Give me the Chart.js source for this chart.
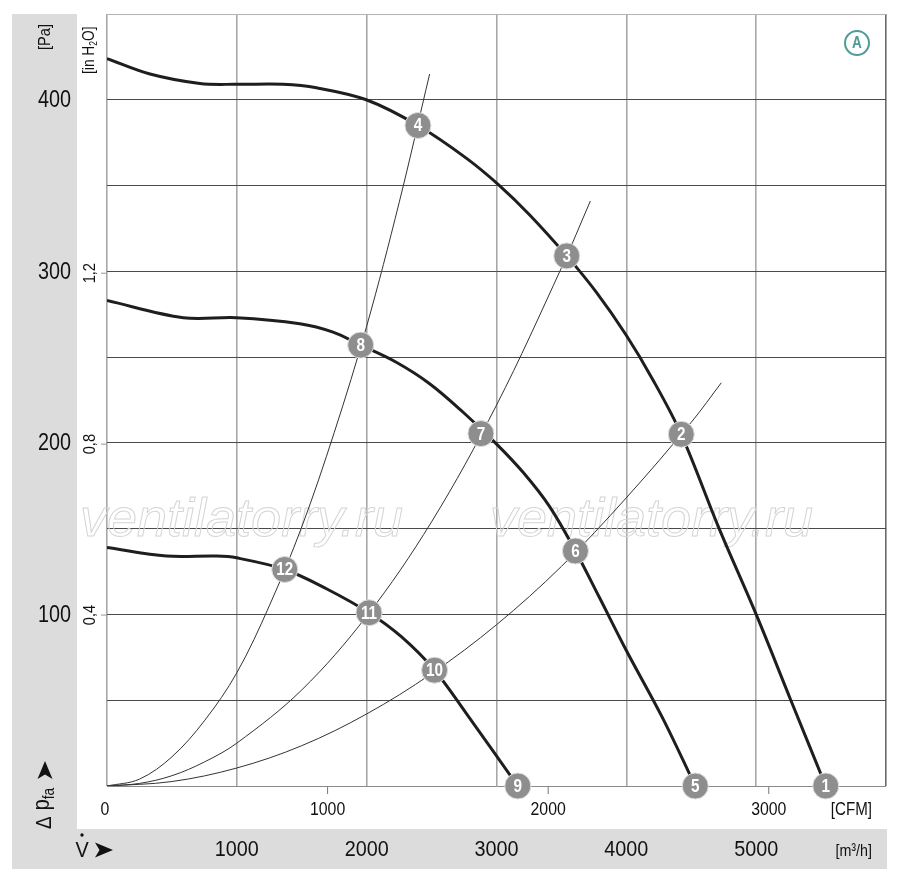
<!DOCTYPE html>
<html>
<head>
<meta charset="utf-8">
<script src="https://cdn.jsdelivr.net/npm/chart.js@4.4.1/dist/chart.umd.min.js"></script>
<style>
  html, body { margin: 0; padding: 0; background: #fff; }
  #wrap { width: 900px; height: 880px; }
</style>
</head>
<body>
<div id="wrap"><canvas id="fanChart" width="900" height="880"></canvas></div>
<script>
// flow in m³/h, pressure in Pa
const curve1Flow = [0, 331, 715, 997, 1356, 1613, 1997, 2395, 2767, 3023, 3254, 3541, 3767, 3997, 4203, 4423, 4715, 5000, 5267, 5536];
const curve1Pa   = [424, 415, 409.5, 409, 409, 407, 400, 385, 366, 350, 333, 309, 288, 263, 237, 205, 150, 100, 50, 0];

const curve2Flow = [0, 587, 997, 1485, 1741, 1954, 2228, 2485, 2741, 2997, 3203, 3408, 3608, 3792, 4000, 4277, 4531];
const curve2Pa   = [283, 273, 273, 269.5, 264.6, 257, 247, 234.5, 218, 199.6, 183, 163, 137, 110, 79, 40, 0];

const curve3Flow = [0, 459, 844, 997, 1369, 1690, 2018, 2267, 2523, 2767, 3164];
const curve3Pa   = [139, 134, 134, 133, 126.2, 115, 101, 87, 67.5, 42.3, 0];

// system curves through the operating points
const sysAFlow = [0, 250, 500, 750, 1000, 1250, 1500, 1750, 2000, 2250, 2485];
const sysAPa   = [0, 4, 17, 38, 66, 105, 151, 206, 268, 340, 415];
const sysBFlow = [0, 250, 500, 750, 1000, 1500, 2000, 2500, 3000, 3500, 3723];
const sysBPa   = [0, 1.5, 6, 14, 25, 56, 99, 154, 222, 302, 341];
const sysCFlow = [0, 500, 1000, 1500, 2000, 2500, 3000, 3500, 4000, 4500, 4731];
const sysCPa   = [0, 2.6, 10.5, 23.5, 42, 65.5, 94, 128, 168, 212, 235];

// numbered operating points
const pointLabels   = ['1', '2', '3', '4', '5', '6', '7', '8', '9', '10', '11', '12'];
const pointFlow     = [5536, 4423, 3541, 2395, 4531, 3608, 2880, 1954, 3164, 2523, 2018, 1369];
const pointPressure = [0, 205, 309, 385, 0, 137, 205.4, 257, 0, 67.5, 101, 126.2];

// axis ticks
const flowTicks   = [1000, 2000, 3000, 4000, 5000];   // m³/h
const cfmTicks    = [0, 1000, 2000, 3000];
const paTicks     = [100, 200, 300, 400];
const inH2oTicks  = [0.4, 0.8, 1.2];
const inH2oLabels = ['0,4', '0,8', '1,2'];

const M3H_PER_CFM = 1.699;
const PA_PER_INH2O = 249.09;
const FONT = '"Liberation Sans", Arimo, Helvetica, sans-serif';

const toXY = (xs, ys) => xs.map((x, i) => ({ x: x, y: ys[i] }));

// condensed-looking text: squeeze a normal face horizontally
function txt(ctx, s, x, y, size, opt) {
  opt = opt || {};
  const sx = opt.sx || 0.86;
  ctx.save();
  ctx.translate(x, y);
  if (opt.rot) ctx.rotate(opt.rot);
  ctx.scale(sx, 1);
  ctx.font = (opt.weight || 'normal') + ' ' + size + 'px ' + FONT;
  ctx.textAlign = opt.align || 'center';
  ctx.textBaseline = opt.base || 'middle';
  ctx.fillStyle = opt.color || '#111';
  ctx.fillText(s, 0, 0);
  const w = ctx.measureText(s).width * sx;
  ctx.restore();
  return w;
}

function arrowHead(ctx, x, y, size, angle) {
  ctx.save();
  ctx.translate(x, y);
  ctx.rotate(angle);
  ctx.beginPath();
  ctx.moveTo(size, 0);
  ctx.lineTo(-size * 0.8, -size * 0.75);
  ctx.lineTo(-size * 0.35, 0);
  ctx.lineTo(-size * 0.8, size * 0.75);
  ctx.closePath();
  ctx.fillStyle = '#111';
  ctx.fill();
  ctx.restore();
}

const decorPlugin = {
  id: 'decor',
  beforeDraw(chart) {
    const ctx = chart.ctx;
    ctx.save();
    ctx.fillStyle = '#fff';
    ctx.fillRect(0, 0, chart.width, chart.height);
    // grey L-shaped label bands
    ctx.fillStyle = '#dcdcdd';
    ctx.fillRect(12, 14, 65, 815);
    ctx.fillRect(12, 829, 875, 40);
    ctx.restore();
  },
  beforeDatasetsDraw(chart) {
    const ctx = chart.ctx;
    ctx.save();
    ctx.font = 'italic 54px "Liberation Sans", Arimo, sans-serif';
    ctx.strokeStyle = '#d4d4d4';
    ctx.lineWidth = 1;
    ctx.textBaseline = 'alphabetic';
    ctx.strokeText('ventilatorry.ru', 80, 536);
    ctx.strokeText('ventilatorry.ru', 490, 536);
    ctx.restore();
  },
  afterDatasetsDraw(chart) {
    const ctx = chart.ctx;
    const meta = chart.getDatasetMeta(0);
    meta.data.forEach((el, i) => {
      txt(ctx, pointLabels[i], el.x, el.y + 1, 18, { weight: 'bold', color: '#fff', sx: 0.85 });
    });
  },
  afterDraw(chart) {
    const ctx = chart.ctx;
    const { x, y, cfm, inh2o } = chart.scales;
    const area = chart.chartArea;
    ctx.save();

    // Pa ticks in the left band
    paTicks.forEach(v => txt(ctx, String(v), 71, y.getPixelForValue(v) + 1, 23, { align: 'right', sx: 0.86 }));

    // in H2O ticks, rotated
    inH2oTicks.forEach((v, i) => {
      const py = inh2o.getPixelForValue(v);
      ctx.strokeStyle = '#999';
      ctx.lineWidth = 1;
      ctx.beginPath();
      ctx.moveTo(area.left - 6, py);
      ctx.lineTo(area.left, py);
      ctx.stroke();
      txt(ctx, inH2oLabels[i], 90, py, 17, { rot: -Math.PI / 2 });
    });

    // [Pa] unit
    txt(ctx, '[Pa]', 45, 37, 17, { rot: -Math.PI / 2 });

    // [in H2O] unit
    ctx.save();
    ctx.translate(90, 74);
    ctx.rotate(-Math.PI / 2);
    let tx = 0;
    tx += txt(ctx, '[in H', tx, 0, 16, { align: 'left' });
    tx += txt(ctx, '2', tx, 4, 10, { align: 'left' });
    txt(ctx, 'O]', tx, 0, 16, { align: 'left' });
    ctx.restore();

    // Δ p_fa with arrow
    ctx.save();
    ctx.translate(45, 829);
    ctx.rotate(-Math.PI / 2);
    let dx = 0;
    dx += txt(ctx, '\u0394', dx, 0, 22, { align: 'left' }) + 6;
    dx += txt(ctx, 'p', dx, -2, 23, { align: 'left' });
    txt(ctx, 'fa', dx, 5, 16, { align: 'left' });
    ctx.restore();
    arrowHead(ctx, 45, 771, 10, -Math.PI / 2);

    // CFM scale under the plot
    cfmTicks.forEach(v => {
      const px = cfm.getPixelForValue(v);
      if (v > 0) {
        ctx.strokeStyle = '#777';
        ctx.lineWidth = 1;
        ctx.beginPath();
        ctx.moveTo(px, area.bottom + 1);
        ctx.lineTo(px, area.bottom + 8);
        ctx.stroke();
      }
      txt(ctx, String(v), px - (v === 0 ? 2 : 0), 810, 18, { sx: 0.88 });
    });
    txt(ctx, '[CFM]', 872, 810, 18, { align: 'right', sx: 0.84 });

    // m³/h scale in the bottom band
    flowTicks.forEach(v => txt(ctx, String(v), x.getPixelForValue(v), 850, 22, { sx: 0.9 }));
    txt(ctx, '[m\u00B3/h]', 872, 851, 17, { align: 'right', sx: 0.84 });

    // V-dot with arrow
    txt(ctx, 'V', 82, 851, 22, { sx: 0.9 });
    ctx.fillStyle = '#111';
    ctx.beginPath();
    ctx.arc(82, 835, 1.7, 0, Math.PI * 2);
    ctx.fill();
    arrowHead(ctx, 103, 850, 10, 0);

    // curve letter badge
    ctx.strokeStyle = '#4f9b97';
    ctx.lineWidth = 2;
    ctx.beginPath();
    ctx.arc(area.right - 29, area.top + 29, 12, 0, Math.PI * 2);
    ctx.stroke();
    txt(ctx, 'A', area.right - 29, area.top + 30, 16, { weight: 'bold', color: '#4f9b97', sx: 0.85 });

    ctx.restore();
  }
};

const fanLine = (xs, ys) => ({
  data: toXY(xs, ys),
  borderColor: '#1e1e1e',
  borderWidth: 3,
  pointRadius: 0,
  showLine: true,
  tension: 0.35,
  order: 1
});
const sysLine = (xs, ys) => ({
  data: toXY(xs, ys),
  borderColor: '#333',
  borderWidth: 1,
  pointRadius: 0,
  showLine: true,
  tension: 0.35,
  order: 2
});

new Chart(document.getElementById('fanChart').getContext('2d'), {
  type: 'scatter',
  data: {
    datasets: [
      {
        data: toXY(pointFlow, pointPressure),
        showLine: false,
        pointRadius: 13,
        pointBackgroundColor: '#8e8e8e',
        pointBorderColor: '#dedede',
        pointBorderWidth: 1,
        clip: false,
        order: 0
      },
      fanLine(curve1Flow, curve1Pa),
      fanLine(curve2Flow, curve2Pa),
      fanLine(curve3Flow, curve3Pa),
      sysLine(sysAFlow, sysAPa),
      sysLine(sysBFlow, sysBPa),
      sysLine(sysCFlow, sysCPa)
    ]
  },
  options: {
    responsive: false,
    devicePixelRatio: 1,
    animation: false,
    layout: { padding: { left: 107, top: 14, right: 14, bottom: 94 } },
    plugins: { legend: { display: false }, tooltip: { enabled: false } },
    scales: {
      x: {
        type: 'linear', min: 0, max: 6000,
        ticks: { display: false, stepSize: 1000 },
        grid: {
          drawTicks: false,
          lineWidth: 1.6,
          color: c => c.tick.value === 6000 ? '#6a6a6a' : '#a8a8a8'
        },
        border: { display: false },
        afterFit: s => { s.height = 0; }
      },
      y: {
        type: 'linear', min: 0, max: 450,
        ticks: { display: false, stepSize: 50 },
        grid: {
          drawTicks: false,
          lineWidth: 1,
          color: c => c.tick.value === 450 ? '#b4b4b4' : (c.tick.value === 0 ? '#8a8a8a' : '#4a4a4a')
        },
        border: { display: false },
        afterFit: s => { s.width = 0; }
      },
      cfm: { type: 'linear', axis: 'x', position: 'bottom', display: false, min: 0, max: 6000 / M3H_PER_CFM },
      inh2o: { type: 'linear', axis: 'y', position: 'left', display: false, min: 0, max: 450 / PA_PER_INH2O }
    }
  },
  plugins: [decorPlugin]
});
</script>
</body>
</html>
